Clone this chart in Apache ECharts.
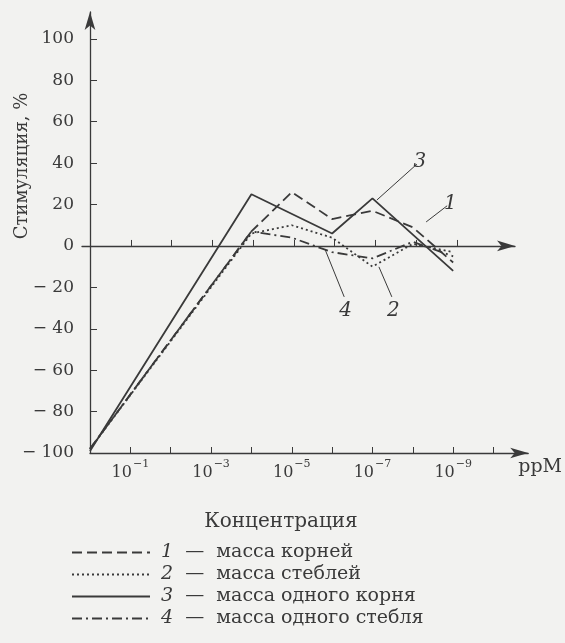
<!DOCTYPE html>
<html>
<head>
<meta charset="utf-8">
<script src="https://cdn.jsdelivr.net/npm/echarts@6/dist/echarts.min.js"></script>
<style>
  html, body { margin: 0; padding: 0; background: #f2f2f0; }
  #chart { width: 565px; height: 643px; }
</style>
</head>
<body>
<div id="chart"></div>
<script>
// exponent n of the concentration 10^-n, ppM
const exponents = [0, 4, 5, 6, 7, 8, 9]
const massRoots = [-98, 7, 26, 13, 17, 9, -8]        // 1
const massStems = [-98, 6, 10, 4, -10, 1, -3]        // 2
const massOneRoot = [-99, 25, null, 6, 23, null, -12] // 3
const massOneStem = [-98, 7, 4, -3, -6, 2, -5]       // 4
const seriesNames = ['масса корней', 'масса стеблей', 'масса одного корня', 'масса одного стебля']
const xTicks = [1, 2, 3, 4, 5, 6, 7, 8, 9, 10]
const xLabels = [1, 3, 5, 7, 9]
const yTicks = [-100, -80, -60, -40, -20, 0, 20, 40, 60, 80, 100]

const serif = '"DejaVu Serif", "Liberation Serif", serif'
const ink = '#3a3a3a'

function pairs (vals) {
  return exponents.map((e, i) => [e, vals[i]])
}

function leader (text, from, to) {
  return {
    silent: true,
    symbol: 'none',
    lineStyle: { color: ink, width: 1, type: 'solid' },
    label: {
      show: true,
      position: 'end',
      distance: 4,
      formatter: text,
      color: ink,
      fontFamily: serif,
      fontStyle: 'italic',
      fontSize: 20
    },
    data: [[{ coord: from }, { coord: to }]]
  }
}

function makeSeries (i, vals, type, mark) {
  return {
    name: seriesNames[i],
    type: 'line',
    xAxisIndex: 0,
    yAxisIndex: 0,
    data: pairs(vals),
    connectNulls: true,
    symbol: 'none',
    animation: false,
    lineStyle: { color: ink, width: 1.8, type: type },
    itemStyle: { color: ink },
    markLine: mark
  }
}

let dom = echarts.init(document.getElementById('chart'))

let option = {
  backgroundColor: '#f2f2f0',
  animation: false,
  title: {
    text: 'Концентрация',
    left: 276,
    top: 507,
    textAlign: 'center',
    textStyle: { fontFamily: serif, fontWeight: 'normal', fontSize: 20, color: ink }
  },
  graphic: [{
    type: 'text',
    x: 22,
    y: 166,
    rotation: Math.PI / 2,
    style: {
      text: 'Стимуляция, %',
      fill: ink,
      font: '18px ' + serif,
      textAlign: 'center',
      textVerticalAlign: 'middle'
    }
  }],
  legend: {
    orient: 'vertical',
    left: 66,
    top: 538,
    itemWidth: 78,
    itemHeight: 12,
    itemGap: 3,
    data: seriesNames,
    itemStyle: { color: 'rgba(0,0,0,0)', borderWidth: 0 },
    formatter: function (name) {
      return ' {n|' + (seriesNames.indexOf(name) + 1) + '}  —  ' + name
    },
    textStyle: {
      fontFamily: serif,
      fontSize: 19,
      color: ink,
      rich: {
        n: { fontFamily: serif, fontSize: 19, fontStyle: 'italic', color: ink }
      }
    }
  },
  grid: [
    { left: 90, right: 32, top: 12, bottom: 190 },
    { left: 82, right: 50, top: 12, bottom: 190 }
  ],
  xAxis: [{
    gridIndex: 0,
    type: 'value',
    min: 0,
    max: 10.86,
    name: 'ppM',
    nameLocation: 'end',
    nameGap: -10,
    nameTextStyle: { fontFamily: serif, fontSize: 19, color: ink, verticalAlign: 'top', align: 'left', padding: [5, 0, 0, 0] },
    splitLine: { show: false },
    axisLine: { onZero: false, symbol: ['none', 'arrow'], symbolSize: [8, 18], lineStyle: { color: ink, width: 1.3 } },
    axisTick: { inside: true, length: 6, customValues: xTicks, lineStyle: { color: ink } },
    axisLabel: {
      customValues: xLabels,
      margin: 6,
      color: ink,
      fontFamily: serif,
      fontSize: 16,
      formatter: v => '10{s|−' + v + '}',
      rich: { s: { fontFamily: serif, fontSize: 11, color: ink, padding: [0, 0, 16, 1] } }
    }
  }, {
    // the zero line with its own ticks
    gridIndex: 1,
    type: 'value',
    min: -0.196,
    max: 10.42,
    splitLine: { show: false },
    axisLine: { onZero: true, symbol: ['none', 'arrow'], symbolSize: [8, 18], lineStyle: { color: ink, width: 1.3 } },
    axisTick: { inside: true, length: 6, customValues: [1, 2, 3, 4, 5, 6, 7, 8, 9], lineStyle: { color: ink } },
    axisLabel: { show: false }
  }],
  yAxis: [{
    gridIndex: 0,
    type: 'value',
    min: -100,
    max: 113,
    splitLine: { show: false },
    axisLine: { symbol: ['none', 'arrow'], symbolSize: [8, 18], lineStyle: { color: ink, width: 1.3 } },
    axisTick: { inside: true, length: 7, customValues: yTicks, lineStyle: { color: ink } },
    axisLabel: {
      customValues: yTicks,
      margin: 16,
      color: ink,
      fontFamily: serif,
      fontSize: 17,
      formatter: v => v < 0 ? '− ' + (-v) : String(v)
    }
  }, {
    gridIndex: 1,
    type: 'value',
    min: -100,
    max: 113,
    show: false
  }],
  series: [
    makeSeries(0, massRoots, [10, 5], leader('1', [8.33, 11.6], [8.85, 19.4])),
    makeSeries(1, massStems, [2, 3], leader('2', [7.16, -10.1], [7.48, -24.6])),
    makeSeries(2, massOneRoot, 'solid', leader('3', [7.11, 22.2], [8.1, 39.5])),
    makeSeries(3, massOneStem, [10, 4, 2, 4], leader('4', [5.83, -1.9], [6.3, -24.6]))
  ]
}

dom.setOption(option)
window.addEventListener('resize', () => dom.resize())
</script>
</body>
</html>
